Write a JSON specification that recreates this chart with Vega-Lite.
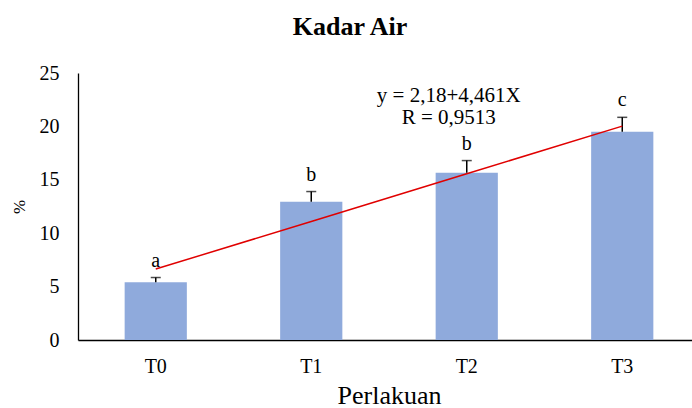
{
  "$schema": "https://vega.github.io/schema/vega-lite/v6.json",
  "autosize": "none",
  "width": 614,
  "height": 267,
  "padding": {"left": 78, "top": 73, "right": 0, "bottom": 68},
  "background": "white",
  "config": {
    "view": {"stroke": null},
    "font": "Times New Roman, Liberation Serif, serif"
  },
  "title": {
    "text": "Kadar Air",
    "font": "Times New Roman, Liberation Serif, serif",
    "fontSize": 26,
    "fontWeight": "bold",
    "color": "black",
    "anchor": "middle",
    "frame": "group",
    "offset": 23,
    "dx": -35
  },
  "datasets": {
    "bars": [
      {"perlakuan": "T0", "nilai": 5.4, "atas": 5.85, "huruf": "a", "trend": 6.641},
      {"perlakuan": "T1", "nilai": 12.95, "atas": 13.9, "huruf": "b", "trend": 11.102},
      {"perlakuan": "T2", "nilai": 15.65, "atas": 16.8, "huruf": "b", "trend": 15.563},
      {"perlakuan": "T3", "nilai": 19.5, "atas": 20.85, "huruf": "c", "trend": 20.024}
    ],
    "notes": [
      {"perlakuan": "T2", "y": 22.8, "teks": "y = 2,18+4,461X"},
      {"perlakuan": "T2", "y": 20.75, "teks": "R = 0,9513"}
    ]
  },
  "encoding": {
    "x": {
      "field": "perlakuan",
      "type": "nominal",
      "sort": ["T0", "T1", "T2", "T3"],
      "scale": {"range": [0, 622], "paddingInner": 0.6, "paddingOuter": 0.3},
      "axis": {
        "title": "Perlakuan",
        "titleFont": "Times New Roman, Liberation Serif, serif",
        "titleFontSize": 26,
        "titleFontWeight": "normal",
        "titleColor": "black",
        "titlePadding": 6,
        "labelFont": "Times New Roman, Liberation Serif, serif",
        "labelFontSize": 20,
        "labelColor": "black",
        "labelAngle": 0,
        "labelPadding": 16,
        "ticks": false,
        "domainColor": "black",
        "domainWidth": 1.3
      }
    }
  },
  "layer": [
    {
      "data": {"name": "bars"},
      "mark": {"type": "bar", "color": "#8FAADC"},
      "encoding": {
        "y": {
          "field": "nilai",
          "type": "quantitative",
          "scale": {"domain": [0, 25], "nice": false, "padding": 0},
          "axis": {
            "title": "%",
            "titleFont": "Times New Roman, Liberation Serif, serif",
            "titleFontSize": 17,
            "titleFontWeight": "normal",
            "titleColor": "black",
            "titlePadding": 11,
            "values": [0, 5, 10, 15, 20, 25],
            "labelFont": "Times New Roman, Liberation Serif, serif",
            "labelFontSize": 20,
            "labelColor": "black",
            "labelPadding": 19,
            "ticks": false,
            "grid": false,
            "domainColor": "black",
            "domainWidth": 1.3
          }
        }
      }
    },
    {
      "data": {"name": "bars"},
      "mark": {"type": "rule", "color": "black", "strokeWidth": 1.5},
      "encoding": {
        "y": {"field": "nilai", "type": "quantitative"},
        "y2": {"field": "atas"}
      }
    },
    {
      "data": {"name": "bars"},
      "mark": {"type": "tick", "color": "black", "thickness": 1.5, "size": 10, "orient": "horizontal"},
      "encoding": {
        "y": {"field": "atas", "type": "quantitative"}
      }
    },
    {
      "data": {"name": "bars"},
      "mark": {"type": "text", "font": "Times New Roman, Liberation Serif, serif", "fontSize": 20, "color": "black", "baseline": "alphabetic", "dy": -11},
      "encoding": {
        "y": {"field": "atas", "type": "quantitative"},
        "text": {"field": "huruf"}
      }
    },
    {
      "data": {"name": "bars"},
      "mark": {"type": "line", "color": "#E00000", "strokeWidth": 1.5},
      "encoding": {
        "y": {"field": "trend", "type": "quantitative"}
      }
    },
    {
      "data": {"name": "notes"},
      "mark": {"type": "text", "font": "Times New Roman, Liberation Serif, serif", "fontSize": 21, "color": "black", "baseline": "middle", "dx": -18},
      "encoding": {
        "y": {"field": "y", "type": "quantitative"},
        "text": {"field": "teks"}
      }
    }
  ]
}
